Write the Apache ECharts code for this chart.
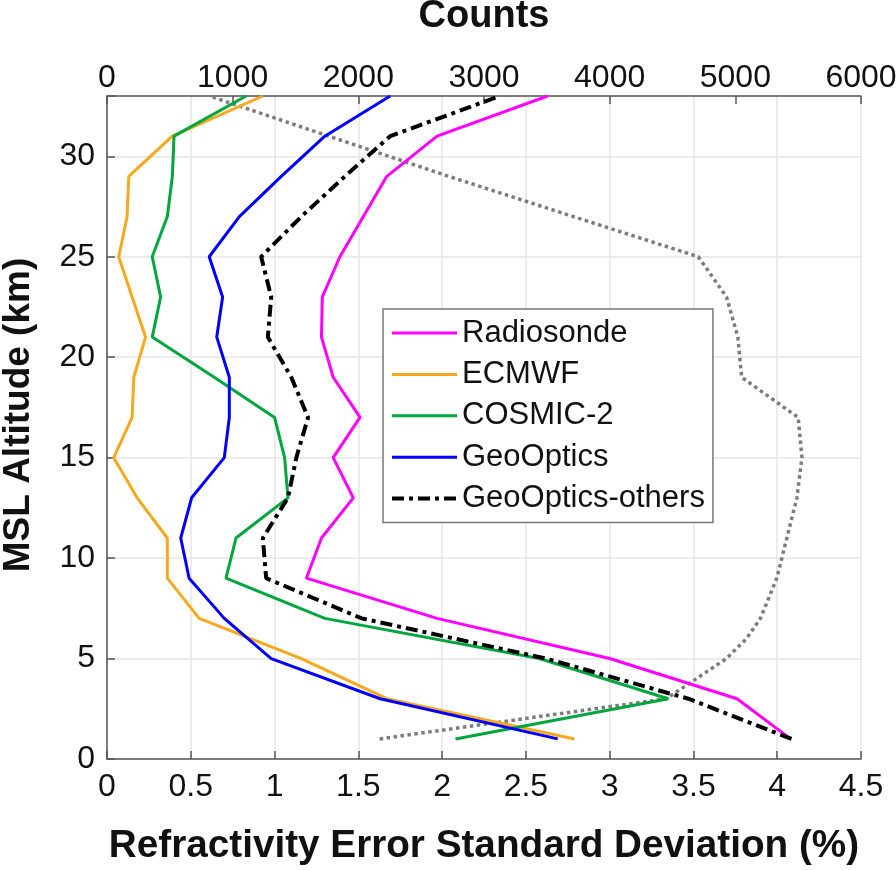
<!DOCTYPE html>
<html>
<head>
<meta charset="utf-8">
<script src="https://cdn.jsdelivr.net/npm/echarts@6/dist/echarts.min.js"></script>
<style>
  html, body { margin: 0; padding: 0; background: #fff; }
  #chart { width: 896px; height: 870px; }
</style>
</head>
<body>
<div id="chart"></div>
<script>
// altitude levels (km)
var altitudes = [1, 3, 5, 7, 9, 11, 13, 15, 17, 19, 21, 23, 25, 27, 29, 31, 33];
// refractivity error std (%)
var radiosonde = [4.08, 3.76, 3.00, 1.97, 1.19, 1.28, 1.47, 1.35, 1.51, 1.35, 1.28, 1.285, 1.39, 1.53, 1.67, 1.97, 2.63];
var ecmwf      = [2.79, 1.67, 1.16, 0.55, 0.36, 0.36, 0.18, 0.04, 0.15, 0.16, 0.23, 0.15, 0.07, 0.12, 0.13, 0.39, 0.93];
var cosmic2    = [2.08, 3.35, 2.58, 1.30, 0.71, 0.77, 1.08, 1.06, 1.00, 0.64, 0.27, 0.32, 0.27, 0.36, 0.39, 0.40, 0.83];
var geoOptics  = [2.69, 1.63, 0.98, 0.70, 0.49, 0.44, 0.505, 0.70, 0.73, 0.73, 0.655, 0.69, 0.61, 0.79, 1.04, 1.30, 1.69];
var geoOthers  = [4.085, 3.47, 2.62, 1.52, 0.95, 0.93, 1.08, 1.13, 1.20, 1.10, 0.96, 0.98, 0.92, 1.16, 1.42, 1.69, 2.345];
// counts (top axis)
var countAltitudes = [1, 3, 4, 5, 6, 7, 9, 11, 13, 15, 17, 19, 21, 23, 25, 27, 29, 31, 33];
var counts = [2170, 4450, 4690, 4930, 5090, 5200, 5330, 5410, 5490, 5530, 5500, 5050, 5020, 4930, 4705, 3710, 2720, 1765, 815];

var FONT = 'Liberation Sans, Arial, Helvetica, sans-serif';

function pairs(xs, ys) {
    var out = [];
    for (var i = 0; i < xs.length; i++) out.push([xs[i], ys[i]]);
    return out;
}

var axisLineStyle = { color: '#555', width: 1.5 };
var tickStyle = { show: true, inside: true, length: 8, lineStyle: { color: '#555', width: 1.5 } };

var chart = echarts.init(document.getElementById('chart'));
var option = {
    animation: false,
    backgroundColor: '#fff',
    grid: {
        left: 107, right: 35, top: 96, bottom: 111,
        containLabel: false,
        outerBoundsMode: 'none'
    },
    legend: {
        orient: 'vertical',
        left: 383,
        top: 309,
        padding: [7, 8, 7, 7],
        itemWidth: 65,
        itemHeight: 14,
        itemGap: 7.4,
        backgroundColor: '#fff',
        borderColor: '#777',
        borderWidth: 1.5,
        borderRadius: 0,
        itemStyle: { opacity: 0 },
        textStyle: { fontSize: 31, fontFamily: FONT, color: '#111', lineHeight: 34 },
        data: [
            { name: 'Radiosonde', lineStyle: { width: 3 } },
            { name: 'ECMWF', lineStyle: { width: 3 } },
            { name: 'COSMIC-2', lineStyle: { width: 3 } },
            { name: 'GeoOptics', lineStyle: { width: 3 } },
            { name: 'GeoOptics-others', lineStyle: { width: 4 } }
        ]
    },
    xAxis: [{
        type: 'value',
        position: 'bottom',
        min: 0, max: 4.5, interval: 0.5,
        axisLine: { show: true, onZero: false, lineStyle: axisLineStyle },
        axisTick: tickStyle,
        axisLabel: { fontSize: 32, fontFamily: FONT, color: '#111', margin: 12 },
        splitLine: { show: true, lineStyle: { color: '#e6e6e6', width: 1.5 } },
        name: 'Refractivity Error Standard Deviation (%)',
        nameLocation: 'middle',
        nameGap: 68,
        nameTextStyle: { fontSize: 38.7, fontWeight: 'bold', fontFamily: FONT, color: '#111' }
    }, {
        type: 'value',
        position: 'top',
        min: 0, max: 6000, interval: 1000,
        axisLine: { show: true, onZero: false, lineStyle: axisLineStyle },
        axisTick: tickStyle,
        axisLabel: {
            fontSize: 32, fontFamily: FONT, color: '#111', margin: 2,
            formatter: function (v) { return String(v); }
        },
        splitLine: { show: false },
        name: 'Counts',
        nameLocation: 'middle',
        nameGap: 60,
        nameTextStyle: { fontSize: 38, fontWeight: 'bold', fontFamily: FONT, color: '#111' }
    }],
    yAxis: {
        type: 'value',
        min: 0, max: 33, interval: 5,
        axisLine: { show: true, onZero: false, lineStyle: axisLineStyle },
        axisTick: tickStyle,
        axisLabel: {
            fontSize: 32, fontFamily: FONT, color: '#111', margin: 12,
            formatter: function (v) { return v % 5 === 0 ? String(v) : ''; }
        },
        splitLine: { show: true, lineStyle: { color: '#e6e6e6', width: 1.5 } },
        name: 'MSL Altitude (km)',
        nameLocation: 'middle',
        nameGap: 70,
        nameTextStyle: { fontSize: 37, fontWeight: 'bold', fontFamily: FONT, color: '#111', padding: [0, 0, 0, 25] }
    },
    series: [{
        name: 'Counts',
        type: 'line',
        xAxisIndex: 1,
        symbol: 'none',
        data: pairs(counts, countAltitudes),
        lineStyle: { color: '#7c7c7c', width: 3.5, type: [3.5, 3.5] },
        z: 1
    }, {
        name: 'Radiosonde',
        type: 'line',
        symbol: 'none',
        data: pairs(radiosonde, altitudes),
        itemStyle: { color: '#ff00ff' },
        lineStyle: { color: '#ff00ff', width: 3 }
    }, {
        name: 'ECMWF',
        type: 'line',
        symbol: 'none',
        data: pairs(ecmwf, altitudes),
        itemStyle: { color: '#f7a81c' },
        lineStyle: { color: '#f7a81c', width: 3 }
    }, {
        name: 'COSMIC-2',
        type: 'line',
        symbol: 'none',
        data: pairs(cosmic2, altitudes),
        itemStyle: { color: '#00a63e' },
        lineStyle: { color: '#00a63e', width: 3 }
    }, {
        name: 'GeoOptics',
        type: 'line',
        symbol: 'none',
        data: pairs(geoOptics, altitudes),
        itemStyle: { color: '#0000ff' },
        lineStyle: { color: '#0000ff', width: 3 }
    }, {
        name: 'GeoOptics-others',
        type: 'line',
        symbol: 'none',
        data: pairs(geoOthers, altitudes),
        itemStyle: { color: '#000' },
        lineStyle: { color: '#000', width: 4, type: [12, 5, 4, 5] }
    }]
};
chart.setOption(option);
</script>
</body>
</html>
